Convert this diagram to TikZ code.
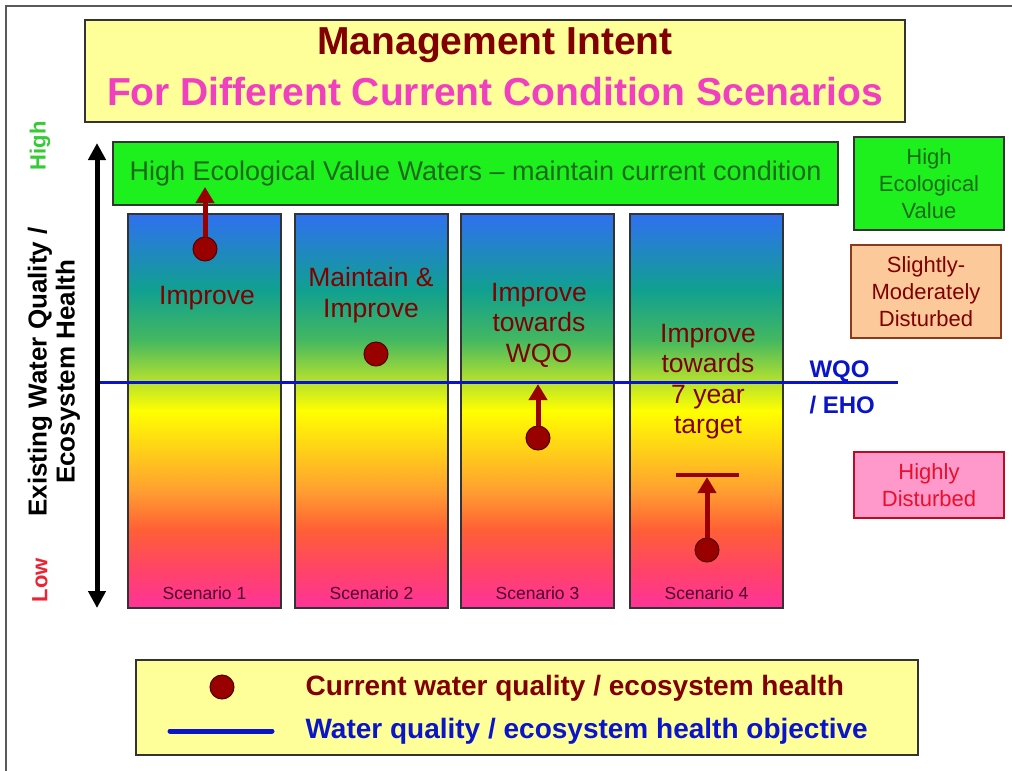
\documentclass[tikz,border=0pt]{standalone}
\usepackage{fontspec}
\setmainfont{Liberation Sans}
\usetikzlibrary{arrows.meta, positioning}

\definecolor{titleyellow}{HTML}{FFFF99}
\definecolor{maroon}{HTML}{800000}
\definecolor{pinktitle}{HTML}{F040C0}
\definecolor{hevgreen}{HTML}{1EF01E}
\definecolor{hevtext}{HTML}{1B6B1B}
\definecolor{smdfill}{HTML}{FBC99A}
\definecolor{smdedge}{HTML}{8B3A1A}
\definecolor{hdfill}{HTML}{FF99CC}
\definecolor{hdtext}{HTML}{E8102A}
\definecolor{dotred}{HTML}{990000}
\definecolor{dotedge}{HTML}{550000}
\definecolor{wqoblue}{HTML}{0A14C8}
\definecolor{scentext}{HTML}{500030}
\definecolor{highgreen}{HTML}{33CC33}
\definecolor{lowred}{HTML}{EE2233}
% column colours, bottom to top
\definecolor{sPink}{HTML}{FF3399}
\definecolor{sRose}{HTML}{FF4466}
\definecolor{sRed}{HTML}{FF6035}
\definecolor{sOrange}{HTML}{FFA030}
\definecolor{sYellow}{HTML}{FFFF00}
\definecolor{sLime}{HTML}{B0E030}
\definecolor{sGreen}{HTML}{44B860}
\definecolor{sTeal}{HTML}{10A090}
\definecolor{sBlue}{HTML}{3070F0}
\pgfdeclareverticalshading{scenshade}{100bp}{color(0bp)=(sPink); color(25bp)=(sPink); color(30bp)=(sRose); color(35bp)=(sRed); color(40bp)=(sOrange); color(50bp)=(sYellow); color(54bp)=(sLime); color(59bp)=(sGreen); color(65.4bp)=(sTeal); color(75bp)=(sBlue); color(100bp)=(sBlue)}

\tikzstyle{box} = [rectangle, draw=black!80, line width=1.2pt, inner sep=0pt, align=center]
\tikzstyle{titlebox} = [box, fill=titleyellow, minimum width=820pt, minimum height=102pt]
\tikzstyle{hevbar} = [box, fill=hevgreen, minimum width=725pt, minimum height=63pt, text=hevtext, font=\fontsize{27}{30}\selectfont]
\tikzstyle{sidebox} = [box, minimum width=150pt, font=\fontsize{22}{27}\selectfont]
\tikzstyle{scenario} = [rectangle, draw=black!80, line width=1.2pt, minimum width=153pt, minimum height=394pt, inner sep=0pt, shade, shading=scenshade]
\tikzstyle{intent} = [align=center, text=maroon, font=\fontsize{26.5}{30.5}\selectfont]
\tikzstyle{scenlabel} = [text=scentext, font=\fontsize{17.5}{20}\selectfont]
\tikzstyle{curdot} = [circle, fill=dotred, draw=dotedge, line width=1pt, minimum size=24pt, inner sep=0pt]
\tikzstyle{uparrow} = [line width=5pt, draw=dotred, -{Triangle[length=16pt,width=18pt]}]
\tikzstyle{wqo} = [line width=3pt, draw=wqoblue]
\tikzstyle{axisarrow} = [line width=5pt, {Triangle[length=17pt,width=17pt]}-{Triangle[length=17pt,width=17pt]}]
\tikzstyle{legendtext} = [anchor=west, font=\bfseries\fontsize{28}{30}\selectfont]

\begin{document}
\begin{tikzpicture}[x=1pt, y=-1pt]
\useasboundingbox (0,0) rectangle (1012,771);

% frame
\coordinate (frameBL) at (6,771);
\coordinate (frameTR) at (1012,6);
\draw [black!65, line width=1.5pt] (frameBL) |- (frameTR);

% Title
\node (titlebox) [titlebox] at (495,71) {};
\node (title) [text=maroon, font=\bfseries\fontsize{39}{47}\selectfont] at (495,45) {Management Intent};
\node (subtitle) [text=pinktitle, font=\bfseries\fontsize{39}{47}\selectfont] at (495,92) {For Different Current Condition Scenarios};

% Placement of boxes
\node (hevbar) [hevbar] at (475.5,173.5) {High Ecological Value Waters -- maintain current condition};
\node (hevbox) [sidebox, fill=hevgreen, text=hevtext, minimum height=93pt] at (929,183.5) {High\\Ecological\\Value};
\node (smdbox) [sidebox, fill=smdfill, draw=smdedge, text=maroon, minimum height=93pt] at (926,291.5) {Slightly-\\Moderately\\Disturbed};
\node (hdbox) [sidebox, fill=hdfill, draw=hdtext!80!black, text=hdtext, minimum height=66pt] at (929,485) {Highly\\Disturbed};

% Scenario columns
\node (scen1) [scenario] at (204.5,411) {};
\node (scen2) [scenario] at (371.5,411) {};
\node (scen3) [scenario] at (537.5,411) {};
\node (scen4) [scenario] at (706.5,411) {};
\node (lab1) [scenlabel, above=5pt of scen1.south] {Scenario 1};
\node (lab2) [scenlabel, above=5pt of scen2.south] {Scenario 2};
\node (lab3) [scenlabel, above=5pt of scen3.south] {Scenario 3};
\node (lab4) [scenlabel, above=5pt of scen4.south] {Scenario 4};

% Intent texts
\node (int1) [intent] at (207,298) {Improve};
\node (int2) [intent] at (371,295) {Maintain \&\\Improve};
\node (int3) [intent] at (539,325) {Improve\\towards\\WQO};
\node (int4) [intent] at (708,381.5) {Improve\\towards\\7 year\\target};

% Objective line
\coordinate (wqoL) at (97,382);
\coordinate (wqoR) at (898,382);
\draw [wqo] (wqoL) -- (wqoR);
\node (wqolab) [anchor=west, text=wqoblue, font=\bfseries\fontsize{24}{36}\selectfont, align=left] at (806,387) {WQO\\/ EHO};

% Current condition and targets
\node (cur1) [curdot] at (205,249) {};
\node (cur2) [curdot] at (376,354) {};
\node (cur3) [curdot] at (538,438) {};
\node (cur4) [curdot] at (707,550) {};
\coordinate (tgt1) at (205,187);
\coordinate (tgt3) at (538,384);
\coordinate (tgt4) at (707,477);
\coordinate (tbarL) at (676,475);
\coordinate (tbarR) at (739,475);
\draw [uparrow] (cur1) -- (tgt1);
\draw [uparrow] (cur3) -- (tgt3);
\draw [uparrow] (cur4) -- (tgt4);
\draw [line width=4pt, dotred] (tbarL) -- (tbarR);

% Axis
\coordinate (axtop) at (97,143);
\coordinate (axbot) at (97,608);
\draw [axisarrow] (axbot) -- (axtop);
\node (axlabel) [rotate=90, align=center, font=\bfseries\fontsize{26}{28}\selectfont] at (54,372) {Existing Water Quality /\\Ecosystem Health};
\node (high) [rotate=90, text=highgreen, font=\bfseries\fontsize{22}{26}\selectfont] at (40,146) {High};
\node (low) [rotate=90, text=lowred, font=\bfseries\fontsize{22}{26}\selectfont] at (40,580) {Low};

% Legend
\node (legend) [box, fill=titleyellow, minimum width=782pt, minimum height=95pt] at (527,707.5) {};
\node (legdot) [curdot] at (222,687) {};
\coordinate (leglineL) at (170,731);
\coordinate (leglineR) at (272,731);
\draw [line width=5pt, wqoblue, line cap=round] (leglineL) -- (leglineR);
\node (legcur) [legendtext, text=maroon] at (302,688) {Current water quality / ecosystem health};
\node (legobj) [legendtext, text=wqoblue] at (302,731) {Water quality / ecosystem health objective};

\end{tikzpicture}
\end{document}
